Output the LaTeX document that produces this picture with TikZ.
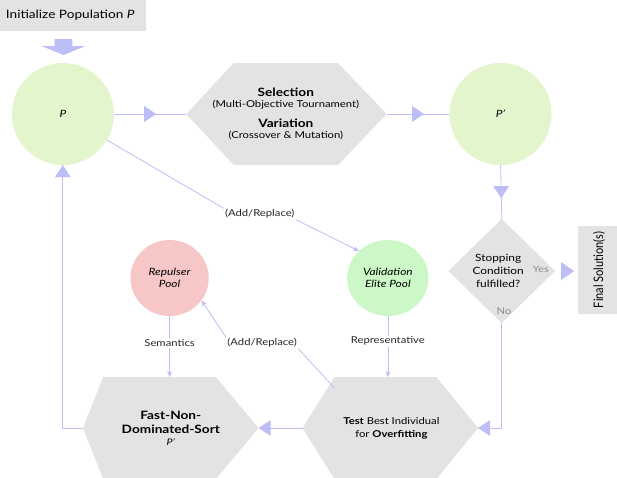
\documentclass[tikz,border=0pt]{standalone}
\usepackage{fontspec}
\setmainfont{Lato}
\usetikzlibrary{shapes.geometric,decorations.markings,arrows.meta}
\definecolor{arr}{HTML}{BDBDF7}
\definecolor{gr}{HTML}{E3E3E3}
\definecolor{pgreen}{HTML}{E2F5CC}
\definecolor{vgreen}{HTML}{CCF7C6}
\definecolor{pink}{HTML}{F7C6C6}
\tikzset{
  circ/.style={ellipse,draw=none,font=\fontsize{10}{12.5}\selectfont\itshape,align=center},
  lbl/.style={font=\fontsize{9.5}{11}\selectfont,text=black!85,inner sep=1pt},
  conn/.style={draw=arr,line width=0.8pt},
  thin/.style={draw=arr,line width=0.8pt,-{Stealth[length=6pt,width=5pt]}},
  midtri/.style={postaction={decorate},decoration={markings,mark=at position #1 with {\fill[arr] (-6pt,-8pt)--(6pt,0pt)--(-6pt,8pt)--cycle;}}},
  hexfill/.style={fill=gr,draw=none}
}
\begin{document}
\begin{tikzpicture}[x=1pt,y=-1pt,xscale=1.186,every node/.style={transform shape}]
\useasboundingbox (0,0) rectangle (520.2,477);
\clip (0,0) rectangle (520.2,477);
% init box
\fill[gr] (-30,0) rectangle (123,31);
\node[font=\fontsize{11.5}{13}\selectfont,anchor=east] (init) at (117,15) {Initialize Population \textit{P}};
% fat down arrow
\fill[arr] (46,39) -- (61,39) -- (61,46) -- (72,46) -- (53.5,55) -- (35,46) -- (46,46) -- cycle;
% circles
\node[circ,fill=pgreen,minimum width=86,minimum height=102] (P) at (53,114) {P};
\node[circ,fill=pgreen,minimum width=86,minimum height=102] (P2) at (422,114) {P’};
\node[circ,fill=pink,minimum width=66,minimum height=76] (rep) at (143,278) {Repulser\\Pool};
\node[circ,fill=vgreen,minimum width=64,minimum height=76] (val) at (327,278) {Validation\\Elite Pool};
% selection hexagon
\fill[hexfill] (157,114) -- (197,63) -- (285,63) -- (326,114) -- (285,165) -- (197,165) -- cycle;
\coordinate (selW) at (157,114); \coordinate (selE) at (326,114);
\node[align=center,font=\fontsize{9.5}{11}\selectfont] (sel) at (241,114)
  {{\fontsize{11.5}{13}\selectfont\bfseries Selection}\\(Multi-Objective Tournament)\\[9pt]{\fontsize{11.5}{13}\selectfont\bfseries Variation}\\(Crossover \& Mutation)};
% test hexagon
\fill[hexfill] (255,428) -- (282,377) -- (368,377) -- (403,428) -- (368,479) -- (282,479) -- cycle;
\coordinate (testW) at (255,428); \coordinate (testE) at (403,428);
\coordinate (testN) at (327,377); \coordinate (testNW) at (282,388);
\node[align=center,font=\fontsize{9.5}{13}\selectfont] (test) at (330,428) {\textbf{Test} Best Individual\\for \textbf{Overfitting}};
% fast non dominated hexagon
\fill[hexfill] (70,428) -- (87,377) -- (182,377) -- (218,428) -- (182,479) -- (87,479) -- cycle;
\coordinate (fastW) at (70,428); \coordinate (fastE) at (218,428); \coordinate (fastN) at (143,377);
\node[align=center,font=\fontsize{11.5}{14}\selectfont\bfseries] (fast) at (144,428) {Fast-Non-\\Dominated-Sort\\[-2pt]{\normalfont\itshape\fontsize{9}{10}\selectfont P’}};
% diamond
\fill[gr] (423,219) -- (468,271) -- (423,323) -- (378,271) -- cycle;
\coordinate (dN) at (423,219); \coordinate (dS) at (423,323);
\node[align=center,font=\fontsize{10}{13}\selectfont] (stop) at (420,271) {Stopping\\Condition\\fulfilled?};
\node[font=\fontsize{9}{10}\selectfont,text=black!45] (yes) at (456,269) {Yes};
\node[font=\fontsize{9.5}{10}\selectfont,text=black!45] (no) at (425,311) {No};
% final box
\fill[gr] (487,226) rectangle (522,314);
\node[rotate=90,font=\fontsize{11}{12}\selectfont] (final) at (505,270) {Final Solution(s)};
% connectors
\path[conn,midtri=0.5] (P.east) -- (selW);
\path[conn,midtri=0.5] (selE) -- (P2.west);
\path[conn,midtri=0.5] (P2.south) -- (dN);
\fill[arr] (473,262) -- (484,271) -- (473,280) -- cycle;
\path[conn,midtri=-6pt] (dS) |- (testE);
\path[conn,midtri=-6pt] (testW) -- (fastE);
\path[conn,midtri=-6pt] (fastW) -| (P.south);
% thin connectors
\node[lbl] (ar1) at (219,214) {(Add/Replace)};
\draw[conn] (P.-35) -- (ar1.north west);
\draw[thin] (ar1.south east) -- (val.north west);
\node[lbl] (sem) at (143,343) {Semantics};
\draw[conn] (rep.south) -- (sem.north);
\draw[thin] (sem.south) -- (fastN);
\node[lbl] (repr) at (327,341) {Representative};
\draw[conn] (val.south) -- (repr.north);
\draw[thin] (repr.south) -- (testN);
\node[lbl] (ar2) at (221,343) {(Add/Replace)};
\draw[conn] (testNW) -- (ar2.south east);
\draw[thin] (ar2.north west) -- (rep.-40);
\end{tikzpicture}
\end{document}
